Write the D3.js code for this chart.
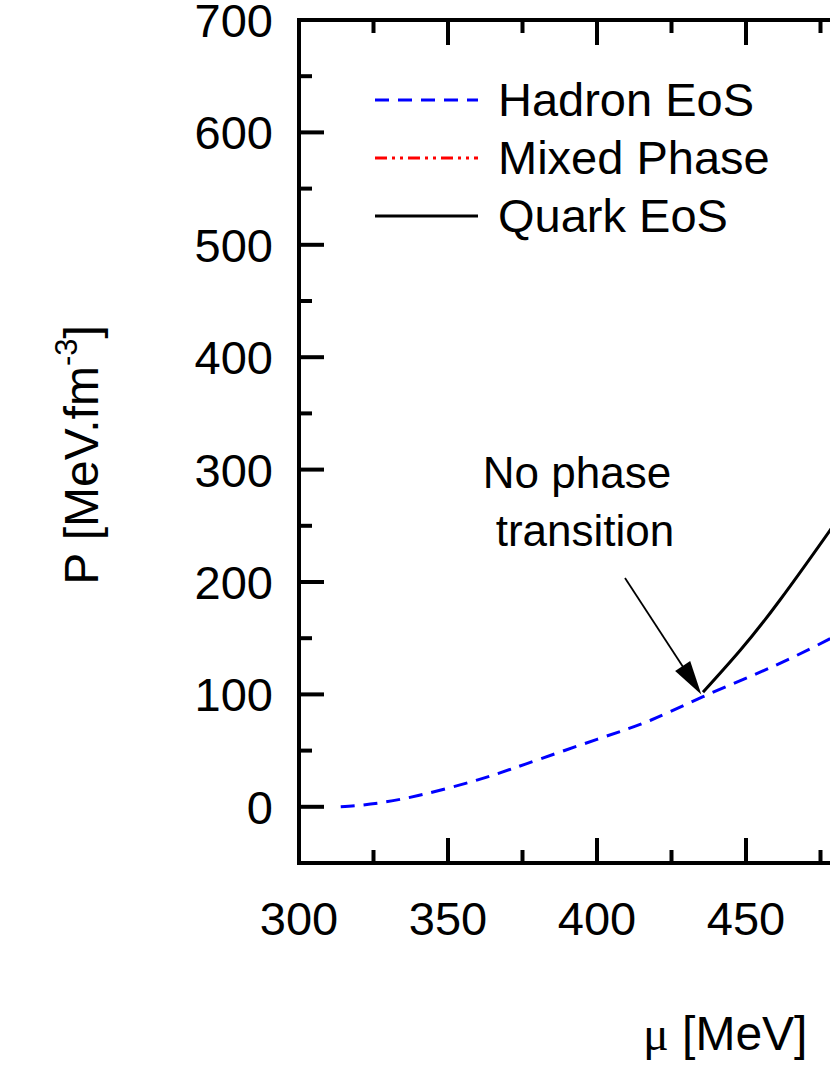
<!DOCTYPE html>
<html>
<head>
<meta charset="utf-8">
<script src="https://cdn.jsdelivr.net/npm/d3@7"></script>
<style>
  body { margin: 0; background: #fff; }
  text { font-family: Arial, "Liberation Sans", sans-serif; }
</style>
</head>
<body>
<svg id="chart" width="830" height="1075"></svg>
<script>
// values
var hadronMu = [314, 324, 340, 360, 376, 400, 418, 435.6, 460, 480];
var hadronP  = [0, 2.4, 10, 24, 38, 60, 77, 98, 126, 152];
var quarkMu = [435.6, 448, 461.4, 478.2, 485];
var quarkP  = [102, 139, 184, 246, 272];
var yTicks = [0, 100, 200, 300, 400, 500, 600, 700];
var xTicks = [300, 350, 400, 450, 500, 550];
var legendNames = ["Hadron EoS", "Mixed Phase", "Quark EoS"];
var legendColors = ["#0000ff", "#ff0000", "#000000"];
var legendDash = ["14,9", "12,5,3,5,3,5", null];

var svg = d3.select("#chart");
var x = d3.scaleLinear().domain([300, 600]).range([299, 299 + 300 * 2.98]);
var y = d3.scaleLinear().domain([-50, 700]).range([863, 20]);

var clip = svg.append("clipPath").attr("id", "plotclip");
clip.append("rect").attr("x", x(300)).attr("y", y(700)).attr("width", 1000).attr("height", y(-50) - y(700));

var line = d3.line().curve(d3.curveNatural)
  .x(function (d) { return x(d[0]); })
  .y(function (d) { return y(d[1]); });

var plot = svg.append("g").attr("clip-path", "url(#plotclip)");
plot.append("path").datum(d3.zip(hadronMu, hadronP)).attr("d", line)
  .attr("fill", "none").attr("stroke", "#0000ff").attr("stroke-width", 3).attr("stroke-dasharray", "14,9");
plot.append("path").datum(d3.zip(quarkMu, quarkP)).attr("d", line)
  .attr("fill", "none").attr("stroke", "#000").attr("stroke-width", 3);

// frame
svg.append("line").attr("x1", x(300)).attr("x2", 830).attr("y1", y(-50)).attr("y2", y(-50)).attr("stroke", "#000").attr("stroke-width", 4);
svg.append("line").attr("x1", x(300)).attr("x2", 830).attr("y1", y(700)).attr("y2", y(700)).attr("stroke", "#000").attr("stroke-width", 4);
svg.append("line").attr("x1", x(300)).attr("x2", x(300)).attr("y1", y(-50) + 2).attr("y2", y(700) - 2).attr("stroke", "#000").attr("stroke-width", 4);

// ticks
var axes = svg.append("g").attr("stroke", "#000").attr("stroke-width", 4);
d3.range(-50, 701, 50).forEach(function (v) {
  var len = v % 100 === 0 ? 25 : 13;
  axes.append("line").attr("x1", x(300)).attr("x2", x(300) + len).attr("y1", y(v)).attr("y2", y(v));
});
d3.range(300, 601, 25).forEach(function (v) {
  if (v === 300) return;
  var len = v % 50 === 0 ? 25 : 13;
  axes.append("line").attr("x1", x(v)).attr("x2", x(v)).attr("y1", y(-50)).attr("y2", y(-50) - len);
  axes.append("line").attr("x1", x(v)).attr("x2", x(v)).attr("y1", y(700)).attr("y2", y(700) + len);
});

svg.selectAll(".yl").data(yTicks).enter().append("text")
  .attr("x", 273).attr("y", function (d) { return y(d) + 17; })
  .attr("text-anchor", "end").attr("font-size", 47).text(function (d) { return d; });
svg.selectAll(".xl").data(xTicks).enter().append("text")
  .attr("x", function (d) { return x(d); }).attr("y", 935)
  .attr("text-anchor", "middle").attr("font-size", 47).text(function (d) { return d; });

// axis titles
var yt = svg.append("text").attr("transform", "translate(98,455) rotate(-90)")
  .attr("text-anchor", "middle").attr("font-size", 48);
yt.append("tspan").text("P [MeV.fm");
yt.append("tspan").attr("font-size", 31).attr("dy", -21).text("-3");
yt.append("tspan").attr("dy", 21).text("]");
var xt = svg.append("text").attr("x", 643).attr("y", 1050).attr("font-size", 48);
xt.append("tspan").attr("font-family", "'Liberation Serif', serif").text("μ");
xt.append("tspan").text(" [MeV]");

// legend
legendNames.forEach(function (n, i) {
  var ly = 100 + i * 58;
  svg.append("line").attr("x1", 375).attr("x2", 478).attr("y1", ly).attr("y2", ly)
    .attr("stroke", legendColors[i]).attr("stroke-width", 3)
    .attr("stroke-dasharray", legendDash[i]);
  svg.append("text").attr("x", 498).attr("y", ly + 16).attr("font-size", 47).text(n);
});

// annotation
svg.append("text").attr("x", 577).attr("y", 488).attr("text-anchor", "middle").attr("font-size", 44).text("No phase");
svg.append("text").attr("x", 585).attr("y", 546).attr("text-anchor", "middle").attr("font-size", 44).text("transition");
var tip = [x(435), y(100)];
svg.append("line").attr("x1", 625).attr("y1", 578).attr("x2", tip[0] - 12).attr("y2", tip[1] - 18)
  .attr("stroke", "#000").attr("stroke-width", 1.8);
var ang = Math.atan2(tip[1] - 578, tip[0] - 625);
var L = 34, W = 9;
var bx = tip[0] - L * Math.cos(ang), by = tip[1] - L * Math.sin(ang);
svg.append("path").attr("d", "M" + tip[0] + "," + tip[1] +
  "L" + (bx - W * Math.sin(ang)) + "," + (by + W * Math.cos(ang)) +
  "L" + (bx + W * Math.sin(ang)) + "," + (by - W * Math.cos(ang)) + "Z").attr("fill", "#000");
</script>
</body>
</html>
